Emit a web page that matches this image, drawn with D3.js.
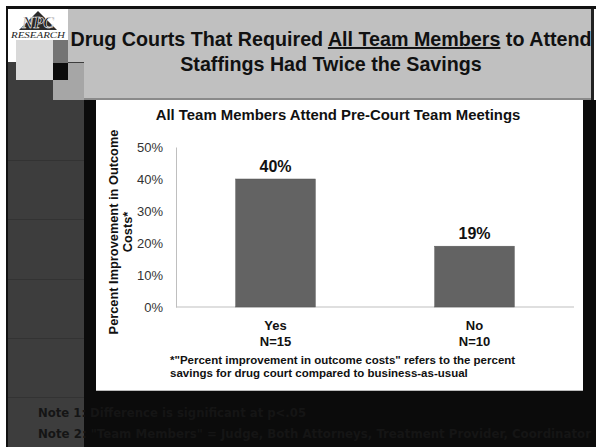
<!DOCTYPE html>
<html><head><meta charset="utf-8">
<script src="https://cdn.jsdelivr.net/npm/d3@7"></script>
<style>html,body{margin:0;padding:0;background:#fff;}svg{display:block;}</style>
</head><body>
<script>
const categories = ["Yes", "No"];
const groupSizes = ["N=15", "N=10"];
const values = [40, 19];
const yTicks = [0, 10, 20, 30, 40, 50];
const slideTitle1 = ["Drug Courts That Required ", "All Team Members", " to Attend"];
const slideTitle2 = "Staffings Had Twice the Savings";
const chartTitle = "All Team Members Attend Pre-Court Team Meetings";
const yTitle = ["Percent Improvement in Outcome", "Costs*"];
const footnote = ["*\"Percent improvement in outcome costs\" refers to the percent", "savings for drug court compared to business-as-usual"];
const notes = ["Note 1: Difference is significant at p<.05", "Note 2: \"Team Members\" = Judge, Both Attorneys, Treatment Provider, Coordinator"];

const W = 596, H = 447;
const svg = d3.select("body").append("svg").attr("width", W).attr("height", H);

// slide background / decoration
svg.append("rect").attr("x", 7).attr("y", 7).attr("width", W - 7).attr("height", H - 7).attr("fill", "#fff");
svg.append("rect").attr("x", 7).attr("y", 6).attr("width", W - 7).attr("height", 3).attr("fill", "#111");
svg.append("rect").attr("x", 6).attr("y", 6).attr("width", 2).attr("height", H - 6).attr("fill", "#111");
// title bar
svg.append("rect").attr("x", 68).attr("y", 9).attr("width", 524).attr("height", 90).attr("fill", "#c0c0c0");
svg.append("rect").attr("x", 68).attr("y", 98).attr("width", 524).attr("height", 2).attr("fill", "#8a8a8a");
svg.append("rect").attr("x", 591).attr("y", 9).attr("width", 3).attr("height", 91).attr("fill", "#222");
// left dark column
svg.append("rect").attr("x", 8).attr("y", 62).attr("width", 76).attr("height", H - 62).attr("fill", "#3d3d3d");
[160, 219, 279, 338, 397].forEach(y => svg.append("rect").attr("x", 8).attr("y", y).attr("width", 76).attr("height", 1).attr("fill", "#333"));
// squares
svg.append("rect").attr("x", 53).attr("y", 63).attr("width", 31).attr("height", 37).attr("fill", "#a6a6a6");
svg.append("rect").attr("x", 16).attr("y", 40).attr("width", 37).attr("height", 40).attr("fill", "#d9d9d9");
svg.append("rect").attr("x", 53).attr("y", 40).attr("width", 15).attr("height", 23).attr("fill", "#747474");
svg.append("rect").attr("x", 53).attr("y", 63).attr("width", 15).attr("height", 17).attr("fill", "#0b0b0b");
// black areas
svg.append("rect").attr("x", 84).attr("y", 100).attr("width", 12).attr("height", H - 100).attr("fill", "#0b0b0b");
svg.append("rect").attr("x", 583).attr("y", 100).attr("width", W - 583).attr("height", H - 100).attr("fill", "#0b0b0b");
svg.append("rect").attr("x", 84).attr("y", 391).attr("width", W - 84).attr("height", H - 391).attr("fill", "#0b0b0b");
// chart box
svg.append("rect").attr("x", 96).attr("y", 100).attr("width", 487).attr("height", 291).attr("fill", "#fff");
svg.append("rect").attr("x", 96).attr("y", 390).attr("width", 487).attr("height", 1).attr("fill", "#bbb");

// logo
const logo = svg.append("g");
logo.append("polygon").attr("points", "38,11 19,30 57,30").attr("fill", "#2a2a2a");
logo.append("text").attr("x", 38).attr("y", 27.5).attr("text-anchor", "middle")
  .attr("font-family", "Liberation Serif, serif").attr("font-weight", "bold").attr("font-style", "italic")
  .attr("font-size", 16).attr("fill", "#111").attr("stroke", "#fff").attr("stroke-width", 0.6).text("NPC");
logo.append("text").attr("x", 38).attr("y", 38).attr("text-anchor", "middle")
  .attr("font-family", "Liberation Serif, serif").attr("font-style", "italic")
  .attr("font-size", 7.5).attr("fill", "#222").attr("textLength", 54).attr("lengthAdjust", "spacingAndGlyphs").text("RESEARCH");

// slide title
const t1 = svg.append("text").attr("x", 331).attr("y", 46).attr("text-anchor", "middle")
  .attr("font-family", "Liberation Sans, Arial, sans-serif").attr("font-weight", "bold").attr("font-size", 19.7).attr("fill", "#111");
slideTitle1.forEach((s, i) => {
  const ts = t1.append("tspan").text(s);
  if (i === 1) ts.attr("text-decoration", "underline");
});
svg.append("text").attr("x", 331).attr("y", 71).attr("text-anchor", "middle")
  .attr("font-family", "Liberation Sans, Arial, sans-serif").attr("font-weight", "bold").attr("font-size", 19.7).attr("fill", "#111")
  .text(slideTitle2);

// chart
const font = "Liberation Sans, Arial, sans-serif";
svg.append("text").attr("x", 338).attr("y", 120).attr("text-anchor", "middle")
  .attr("font-family", font).attr("font-weight", "bold").attr("font-size", 14.9).attr("fill", "#111").text(chartTitle);

const x = d3.scaleBand().domain(categories).range([176, 574]).paddingInner(0.6).paddingOuter(0.3);
const y = d3.scaleLinear().domain([0, 50]).range([307, 147]);

const yAxis = svg.append("g").attr("transform", "translate(176,0)")
  .call(d3.axisLeft(y).tickValues(yTicks).tickFormat(d => d + "%").tickSize(0).tickPadding(13));
yAxis.select(".domain").attr("stroke", "#bfbfbf");
yAxis.selectAll("text").attr("font-family", font).attr("font-size", 13).attr("fill", "#333");

svg.append("line").attr("x1", 176).attr("x2", 574).attr("y1", y(0)).attr("y2", y(0)).attr("stroke", "#bfbfbf");

svg.selectAll(".bar").data(values).enter().append("rect")
  .attr("x", (d, i) => x(categories[i])).attr("width", x.bandwidth())
  .attr("y", d => y(d)).attr("height", d => y(0) - y(d))
  .attr("fill", "#636363").attr("stroke", "#555").attr("stroke-width", 0.5);

svg.selectAll(".vl").data(values).enter().append("text")
  .attr("x", (d, i) => x(categories[i]) + x.bandwidth() / 2).attr("y", d => y(d) - 7)
  .attr("text-anchor", "middle").attr("font-family", font).attr("font-weight", "bold").attr("font-size", 16).attr("fill", "#111")
  .text(d => d + "%");

categories.forEach((c, i) => {
  const cx = x(c) + x.bandwidth() / 2;
  svg.append("text").attr("x", cx).attr("y", 330).attr("text-anchor", "middle").attr("font-family", font)
    .attr("font-weight", "bold").attr("font-size", 13).attr("fill", "#111").text(c);
  svg.append("text").attr("x", cx).attr("y", 345.5).attr("text-anchor", "middle").attr("font-family", font)
    .attr("font-weight", "bold").attr("font-size", 13).attr("fill", "#111").text(groupSizes[i]);
});

// y title
const yt = svg.append("text").attr("transform", "translate(118,232) rotate(-90)").attr("text-anchor", "middle")
  .attr("font-family", font).attr("font-weight", "bold").attr("font-size", 12.8).attr("fill", "#111");
yt.append("tspan").attr("x", 0).attr("y", 0).text(yTitle[0]);
yt.append("tspan").attr("x", 0).attr("y", 14).text(yTitle[1]);

// footnote
footnote.forEach((s, i) => {
  svg.append("text").attr("x", 170).attr("y", 364 + i * 12.7).attr("font-family", font)
    .attr("font-weight", "bold").attr("font-size", 11.5).attr("fill", "#111").text(s);
});

// notes
const noteLens = [268, 553];
notes.forEach((s, i) => {
  svg.append("text").attr("x", 38).attr("y", 416.5 + i * 21.5)
    .attr("font-family", "DejaVu Sans Condensed, DejaVu Sans, sans-serif").attr("font-weight", "bold")
    .attr("font-size", 13).attr("fill", "#151515")
    .attr("textLength", noteLens[i]).attr("lengthAdjust", "spacingAndGlyphs").text(s);
});
</script>
</body></html>
